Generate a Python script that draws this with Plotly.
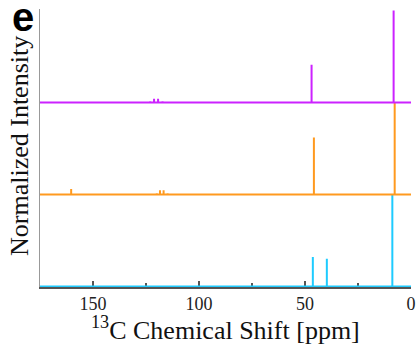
import plotly.graph_objects as go

# ---- data ----
x_ticks = [0, 50, 100, 150]
x_minor = [25, 75, 125]
x_range = [175, 0]

cyan_ppm = [46.3, 39.7, 8.8]
cyan_int = [0.32, 0.30, 1.0]

orange_ppm = [160.3, 119.9, 118.4, 116.7, 114.8, 45.8, 7.7]
orange_int = [0.06, 0.012, 0.045, 0.045, 0.012, 0.62, 1.0]

magenta_ppm = [123.0, 121.2, 119.3, 117.2, 46.9, 8.2]
magenta_int = [0.012, 0.04, 0.04, 0.012, 0.41, 1.0]

offsets = {"cyan": 0.0, "orange": 1.0, "magenta": 2.0}
colors = {"cyan": "#1ECBFF", "orange": "#FF9A1F", "magenta": "#CC22FF"}


def stick_spectrum(ppm, inten, offset, lo=0.0, hi=175.0):
    pairs = sorted(zip(ppm, inten), key=lambda p: -p[0])
    xs, ys = [hi], [offset]
    for p, h in pairs:
        xs += [p, p, p]
        ys += [offset, offset + h, offset]
    xs.append(lo)
    ys.append(offset)
    return xs, ys


fig = go.Figure()
for name, ppm, inten in [("cyan", cyan_ppm, cyan_int),
                         ("orange", orange_ppm, orange_int),
                         ("magenta", magenta_ppm, magenta_int)]:
    xs, ys = stick_spectrum(ppm, inten, offsets[name])
    fig.add_trace(go.Scatter(x=xs, y=ys, mode="lines",
                             line=dict(color=colors[name], width=2),
                             showlegend=False, hoverinfo="skip"))

serif = "Liberation Serif, Times New Roman, serif"
W, H = 418, 348
# plot area in page pixels: x 40..411, y 9..287
L, R, T, B = 40, W - 411, 9, H - 287
pw, ph = W - L - R, H - T - B


def px(xp):
    return (xp - L) / pw


def py(yp):
    return (H - B - yp) / ph


fig.update_layout(
    width=W, height=H,
    margin=dict(l=L, r=R, t=T, b=B, pad=0),
    paper_bgcolor="white", plot_bgcolor="white",
    xaxis=dict(range=x_range, tickvals=x_ticks, ticks="inside", ticklen=6,
               tickwidth=1.5, tickcolor="#555", showline=True,
               linecolor="#555", linewidth=1.5, showgrid=False, zeroline=False,
               tickfont=dict(family=serif, size=18, color="#222"),
               layer="below traces", automargin=False,
               minor=dict(tickvals=x_minor, ticks="inside", ticklen=4,
                          tickwidth=1.5, tickcolor="#555", showgrid=False)),
    yaxis=dict(range=[-0.006, 3.016], showticklabels=False, ticks="",
               showline=True, linecolor="#999", linewidth=1.5,
               showgrid=False, zeroline=False, layer="below traces",
               automargin=False),
    annotations=[
        dict(text="Normalized Intensity", x=px(19), y=py(146), xref="paper",
             yref="paper", textangle=-90, showarrow=False,
             font=dict(family=serif, size=26, color="#111"),
             xanchor="center", yanchor="middle"),
        dict(text="<sup>13</sup>C Chemical Shift [ppm]", x=px(225.5),
             y=py(328), xref="paper", yref="paper", showarrow=False,
             font=dict(family=serif, size=26, color="#111"),
             xanchor="center", yanchor="middle"),
        dict(text="<b>e</b>", x=px(23), y=py(17), xref="paper", yref="paper",
             showarrow=False,
             font=dict(family="Liberation Sans, Arial, sans-serif", size=40,
                       color="black"),
             xanchor="center", yanchor="middle"),
    ],
)

fig.write_html("out.html",
               config={"displayModeBar": False, "staticPlot": True},
               post_script="document.body.style.margin='0';"
                           "document.body.style.overflow='hidden';")
